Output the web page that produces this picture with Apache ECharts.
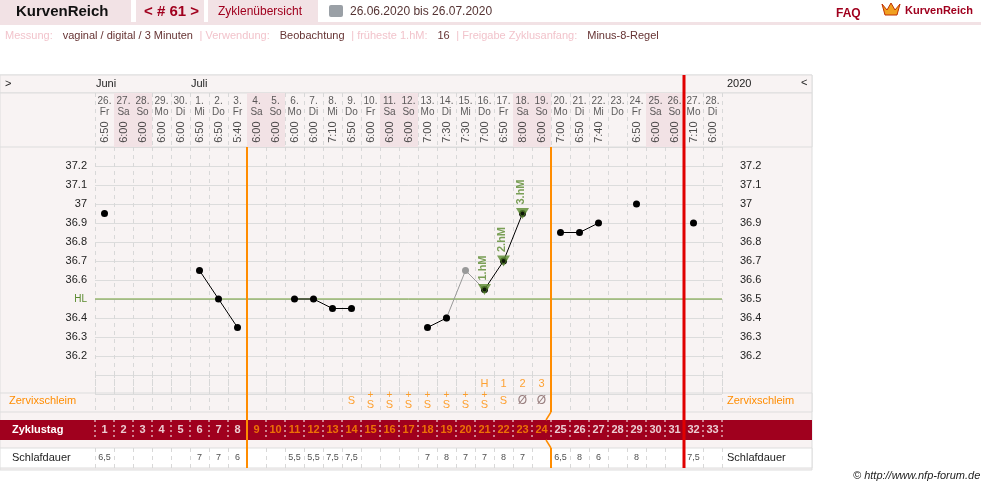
<!DOCTYPE html>
<html><head><meta charset="utf-8">
<script src="https://cdn.jsdelivr.net/npm/echarts@6/dist/echarts.min.js"></script>
<style>body{margin:0;background:#fff}#c{width:981px;height:488px}</style>
</head><body><div id="c"></div>
<script>
var days = ['26.','27.','28.','29.','30.','1.','2.','3.','4.','5.','6.','7.','8.','9.','10.','11.','12.','13.','14.','15.','16.','17.','18.','19.','20.','21.','22.','23.','24.','25.','26.','27.','28.'];
var weekdays = ['Fr','Sa','So','Mo','Di','Mi','Do','Fr','Sa','So','Mo','Di','Mi','Do','Fr','Sa','So','Mo','Di','Mi','Do','Fr','Sa','So','Mo','Di','Mi','Do','Fr','Sa','So','Mo','Di'];
var times = ['6:50','6:00','6:00','6:00','6:00','6:50','6:50','5:40','6:00','6:00','6:00','6:00','7:10','6:50','6:00','6:00','6:00','7:00','7:30','7:30','7:00','6:50','8:00','6:00','7:00','6:50','7:40','','6:50','6:00','6:00','7:10','6:00'];
var temps = [36.95,null,null,null,null,36.65,36.5,36.35,null,null,36.5,36.5,36.45,36.45,null,null,null,36.35,36.4,null,36.55,36.7,36.95,null,36.85,36.85,36.9,null,37.0,null,null,36.9,null];
var excluded = [null,null,null,null,null,null,null,null,null,null,null,null,null,null,null,null,null,null,36.4,36.65,36.55,null,null,null,null,null,null,null,null,null,null,null,null];
var hmDays = [20,21,22];
var hmLabels = ['1.hM','2.hM','3.hM'];
var cervix = ['','','','','','','','','','','','','','S','S+','S+','S+','S+','S+','S+','S+','S','Ø','Ø','','','','','','','','',''];
var markers = ['','','','','','','','','','','','','','','','','','','','','H','1','2','3','','','','','','','','',''];
var cycleDay = [1,2,3,4,5,6,7,8,9,10,11,12,13,14,15,16,17,18,19,20,21,22,23,24,25,26,27,28,29,30,31,32,33];
var sleep = ['6,5','','','','','7','7','6','','','5,5','5,5','7,5','7,5','','','','7','8','7','7','8','7','','6,5','8','6','','8','','','7,5',''];
var tempTicks = [36.2,36.3,36.4,36.5,36.6,36.7,36.8,36.9,37,37.1,37.2];
var coverLine = 36.5;
var shiftStart = 8, shiftEnd = 24, todayIdx = 31;

var FONT = "'Liberation Sans Narrow','Liberation Sans',Arial,sans-serif";
var L = 95, W = 627, colW = W / 33;
function bx(k){ return L + colW * k; }

function xa(gi, split){
  return {type:'category', gridIndex:gi, data:days.map(function(d,i){return i;}),
    axisLabel:{show:false}, axisTick:{show:false}, axisLine:{show:false},
    splitLine:{show:split, interval:0, lineStyle:{color:'#d8d8d8', type:[4,4]}}};
}
function catY(gi, name, color, bold, right){
  return [{type:'category', gridIndex:gi, data:[name], axisTick:{show:false}, axisLine:{show:false},
    axisLabel:{color:color, fontFamily:FONT, fontSize:11, fontWeight:bold?'bold':'normal', margin:83, align:'left'}},
   {type:'category', gridIndex:gi, position:'right', data:[name], axisTick:{show:false}, axisLine:{show:false},
    axisLabel:{show:right, color:color, fontFamily:FONT, fontSize:11, margin:5, align:'left'}}];
}

var yAxes = [
  {type:'value', gridIndex:0, min:0, max:2, show:false},
  {type:'value', gridIndex:1, min:36.0, max:37.3, interval:0.1, axisLine:{show:false}, axisTick:{show:false},
    splitLine:{lineStyle:{color:'#dcdcdc'}},
    axisLabel:{fontFamily:FONT, fontSize:11, color:'#222', margin:8,
      formatter:function(v){ v=Math.round(v*10)/10; if(v===coverLine) return '{h|HL}'; return tempTicks.indexOf(v)>=0 ? String(v) : ''; },
      rich:{h:{color:'#5a8a2e', fontSize:10}}}},
  {type:'value', gridIndex:1, position:'right', min:36.0, max:37.3, interval:0.1, axisLine:{show:false}, axisTick:{show:false}, splitLine:{show:false},
    axisLabel:{fontFamily:FONT, fontSize:11, color:'#222', margin:18,
      formatter:function(v){ v=Math.round(v*10)/10; return tempTicks.indexOf(v)>=0 ? String(v) : ''; }}},
  {type:'value', gridIndex:2, min:0, max:2, show:false}
].concat(catY(2,'', '#ff8c00',false,false)).concat(catY(3,'Zyklustag','#fff',true,false)).concat(catY(4,'Schlafdauer','#222',false,true));
yAxes[4].axisLabel.show=false;

function textSeries(xi, yi, arr, yv, label){
  return {type:'scatter', xAxisIndex:xi, yAxisIndex:yi, symbolSize:0, silent:true,
    data:arr.map(function(t,i){return t===''?null:{value:[i,yv], name:String(t)};}).filter(Boolean),
    label:Object.assign({show:true, position:'inside', formatter:'{b}', fontFamily:FONT}, label)};
}

var shade = days.map(function(d,i){ return (weekdays[i]==='Sa'||weekdays[i]==='So') ? 2 : null; });
var hlLine = [[-0.5,coverLine],[32.5,coverLine]];

var series = [
  {type:'bar', xAxisIndex:0, yAxisIndex:0, data:shade, barWidth:'100%', itemStyle:{color:'#f2e2e5'}, silent:true, z:1},
  textSeries(0,0,days.map(function(d,i){return d+'\n'+weekdays[i];}),1.5,{fontSize:10,color:'#333',lineHeight:11}),
  textSeries(0,0,times,0.55,{fontSize:11,color:'#222',rotate:90}),
  {type:'line', xAxisIndex:5, yAxisIndex:1, data:hlLine, symbol:'none', silent:true, z:2,
    lineStyle:{color:'#6a9a30', width:1}},
  {type:'line', xAxisIndex:1, yAxisIndex:1, data:excluded, connectNulls:false, symbol:'circle', symbolSize:7,
    itemStyle:{color:'#999'}, lineStyle:{color:'#999', width:1}, z:3},
  {type:'line', xAxisIndex:1, yAxisIndex:1, data:temps, connectNulls:false, symbol:'circle', symbolSize:7,
    itemStyle:{color:'#000'}, lineStyle:{color:'#000', width:1}, z:4},
  {type:'scatter', xAxisIndex:1, yAxisIndex:1, symbol:'triangle', symbolRotate:180, symbolSize:[13,11],
    itemStyle:{color:'#5a8a2e'}, z:6,
    data:hmDays.map(function(d,i){return {value:[d,temps[d]], name:hmLabels[i]};}),
    label:{show:true, formatter:'{b}', rotate:90, position:'top', distance:16, offset:[0,4], color:'#5a8a2e', fontWeight:'bold', fontFamily:FONT, fontSize:11}},
  {type:'scatter', xAxisIndex:1, yAxisIndex:1, symbol:'circle', symbolSize:4, itemStyle:{color:'#000'}, z:7, silent:true,
    data:hmDays.map(function(d){return [d,temps[d]];})},
  textSeries(2,3,markers,1.5,{fontSize:11,color:'#ff8c00'}),
  textSeries(2,3,cervix,0.6,{fontSize:11,color:'#ff8c00',lineHeight:9,
    formatter:function(p){ var t=p.name; if(t==='Ø') return '{o|Ø}'; if(t==='S+') return '{p|+}\n{s|S}'; return '{s|S}'; },
    rich:{o:{color:'#806060',fontSize:12}, p:{color:'#ff8c00',fontSize:10,lineHeight:8}, s:{color:'#ff8c00',fontSize:11,lineHeight:11}}}),
  textSeries(3,6,cycleDay,'Zyklustag',{fontSize:11,fontWeight:'bold',
    formatter:function(p){ var n=+p.name; return (n>shiftStart && n<=shiftEnd) ? '{o|'+n+'}' : '{w|'+n+'}'; },
    rich:{o:{color:'#ff8c00',fontWeight:'bold',fontSize:11}, w:{color:'#fff',fontWeight:'bold',fontSize:11}}}),
  textSeries(4,8,sleep,'Schlafdauer',{fontSize:9,color:'#222'})
];

var gr = [];
[[0,75,812,395,'#f8f3f3','#ddd'],[0,75,812,18,'#f8f3f3','#ddd'],[0,93,812,54,'#f8f3f3','#ddd'],
 [0,393,812,19,'#f8f3f3','#ddd'],[0,420,812,20,'#a0001e',null],[0,448,812,20,'#ffffff','#ddd']].forEach(function(r){
  gr.push({type:'rect', z:-10, shape:{x:r[0],y:r[1],width:r[2],height:r[3]}, style:{fill:r[4], stroke:r[5], lineWidth:1}});
});
for (var k=0;k<=33;k++) gr.push({type:'line', z:-5, shape:{x1:bx(k),y1:420,x2:bx(k),y2:440}, style:{stroke:'#fff', lineDash:[2,3], lineWidth:1}});
var o1 = bx(shiftStart), o2 = bx(shiftEnd), rl = bx(todayIdx);
gr.push({type:'line', z:50, shape:{x1:o1,y1:147,x2:o1,y2:468}, style:{stroke:'#ff8c00', lineWidth:2}});
gr.push({type:'line', z:50, shape:{x1:o2,y1:147,x2:o2,y2:412}, style:{stroke:'#ff8c00', lineWidth:2}});
gr.push({type:'line', z:50, shape:{x1:o2,y1:412,x2:o2-5,y2:420}, style:{stroke:'#ff8c00', lineWidth:1.5}});
gr.push({type:'line', z:50, shape:{x1:o2-5,y1:440,x2:o2,y2:448}, style:{stroke:'#ff8c00', lineWidth:1.5}});
gr.push({type:'line', z:50, shape:{x1:o2,y1:448,x2:o2,y2:468}, style:{stroke:'#ff8c00', lineWidth:2}});
gr.push({type:'line', z:51, shape:{x1:rl,y1:75,x2:rl,y2:468}, style:{stroke:'#e00000', lineWidth:3}});
function txt(x,y,t,st){ gr.push({type:'text', z:60, x:x, y:y, style:Object.assign({text:t, fontFamily:FONT, fontSize:11, fill:'#222', textVerticalAlign:'middle'}, st||{})}); }
txt(5,84,'>');
txt(bx(0)+1,84,'Juni'); txt(bx(5)+1,84,'Juli');
txt(727,84,'2020'); txt(801,83,'<');
txt(9,401,'Zervixschleim',{fill:'#ff8c00'}); txt(727,401,'Zervixschleim',{fill:'#ff8c00'});
gr.push({type:'rect', z:-10, shape:{x:0,y:0,width:131,height:22}, style:{fill:'#f2e2e5'}});
gr.push({type:'rect', z:-10, shape:{x:136,y:0,width:68,height:22}, style:{fill:'#f2e2e5'}});
gr.push({type:'rect', z:-10, shape:{x:208,y:0,width:110,height:22}, style:{fill:'#f2e2e5'}});
gr.push({type:'rect', z:-10, shape:{x:0,y:22,width:981,height:3}, style:{fill:'#f2e2e5'}});
txt(16,12,'KurvenReich',{fontSize:15,fontWeight:'bold',fill:'#111'});
txt(144,12,'< # 61 >',{fontSize:15,fontWeight:'bold',fill:'#a0001e'});
txt(218,12,'Zyklenübersicht',{fontSize:12,fill:'#a0001e'});
gr.push({type:'rect', z:5, shape:{x:329,y:5,width:14,height:12,r:2}, style:{fill:'#9aa0a6'}});
txt(350,12,'26.06.2020 bis 26.07.2020',{fontSize:12,fill:'#553333'});
txt(836,14,'FAQ',{fontSize:12,fontWeight:'bold',fill:'#a0001e'});
gr.push({type:'polygon', z:5, shape:{points:[[882,4],[887,10],[891,3],[895,10],[900,4],[897,15],[885,15]]}, style:{fill:'#f0a020', stroke:'#c03000'}});
txt(905,11,'KurvenReich',{fontSize:11,fontWeight:'bold',fill:'#a0001e'});
gr.push({type:'text', z:60, x:5, y:36, style:{rich:{l:{fill:'#f2c4cc',fontSize:11,fontFamily:FONT}, v:{fill:'#663333',fontSize:11,fontFamily:FONT}},
  text:'{l|Messung:}   {v|vaginal / digital / 3 Minuten}  {l|| Verwendung:}   {v|Beobachtung}  {l|| früheste 1.hM:}   {v|16}  {l|| Freigabe Zyklusanfang:}   {v|Minus-8-Regel}', textVerticalAlign:'middle'}});
txt(853,476,'© http://www.nfp-forum.de',{fontSize:11,fontStyle:'italic',fill:'#222'});

var hlAxis = {type:'value', gridIndex:1, min:-0.5, max:32.5, show:false};

var chart = echarts.init(document.getElementById('c'));
chart.setOption({
  animation:false,
  textStyle:{fontFamily:FONT},
  grid:[{left:L,width:W,top:93,height:54},{left:L,width:W,top:147,height:247},{left:L,width:W,top:374,height:38},{left:L,width:W,top:420,height:20},{left:L,width:W,top:448,height:20}],
  xAxis:[xa(0,true),xa(1,true),xa(2,true),xa(3,false),xa(4,true),hlAxis],
  yAxis:yAxes,
  series:series,
  graphic:gr
});
</script></body></html>
